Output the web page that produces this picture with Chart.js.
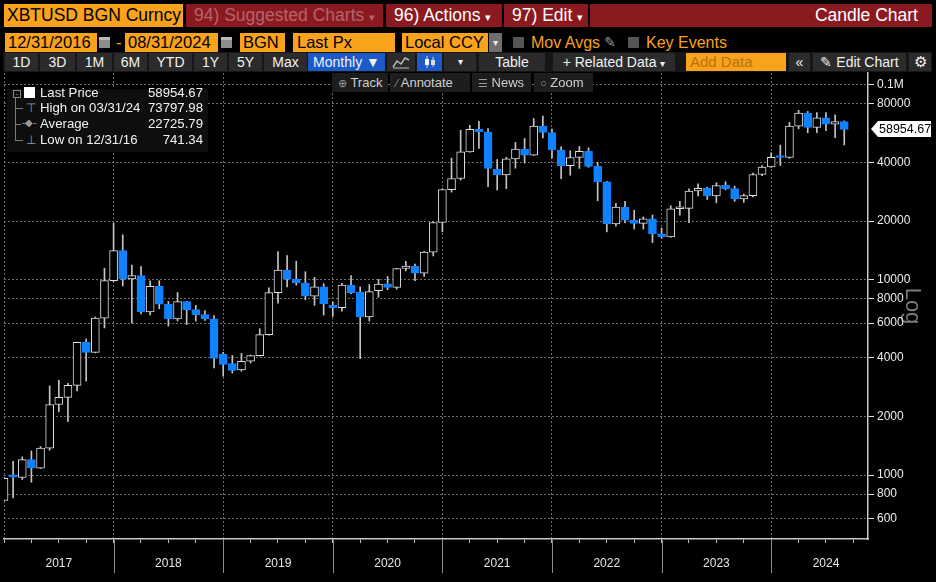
<!DOCTYPE html>
<html>
<head>
<meta charset="utf-8">
<title>XBTUSD Candle Chart</title>
<script src="https://cdn.jsdelivr.net/npm/chart.js@4.4.1/dist/chart.umd.min.js"></script>
<style>
  body { margin:0; background:#000; width:936px; height:582px; overflow:hidden; position:relative;
         font-family:"Liberation Sans", Arial, sans-serif; }
  .b { position:absolute; box-sizing:border-box; white-space:nowrap; overflow:hidden; }
  .r1 { top:4px; height:23px; line-height:23px; font-size:17.5px; }
  .r2 { top:33px; height:19px; line-height:19px; font-size:16.5px; }
  .r3 { top:53px; height:18px; line-height:18px; font-size:14px; background:#2b2b2b; color:#f2f2f2; text-align:center; }
  .r4 { top:73px; height:19px; line-height:19px; font-size:13px; background:#1d1d1d; color:#cfcfcf; padding-left:6px; z-index:2; }
  .org { background:#f9a21b; color:#000; }
  .red { background:#8a1a20; color:#fff; padding-left:8px; }
  .ico { color:#9a9a9a; font-size:11px; }
  #wrap { position:absolute; left:0; top:72px; width:936px; height:510px; }
  #legend { position:absolute; left:7px; top:89px; width:201px; height:63px; background:#0e0e0e; z-index:3;
            font-size:13.2px; color:#f2f2f2; }
  #legend .row { position:absolute; left:33px; width:163px; height:16px; line-height:16px; }
  #legend .row span { position:absolute; right:0; }
  .tree { position:absolute; background:#7a7a7a; }
</style>
</head>
<body>

<!-- header row -->
<div class="b r1 org" style="left:4px;width:179px;padding-left:3px">XBTUSD BGN Curncy</div>
<div class="b r1 red" style="left:186px;width:197px;color:#b5646b">94) Suggested Charts <span style="font-size:11px">▾</span></div>
<div class="b r1 red" style="left:386px;width:116px">96) Actions <span style="font-size:11px">▾</span></div>
<div class="b r1 red" style="left:504px;width:84px">97) Edit <span style="font-size:11px">▾</span></div>
<div class="b r1 red" style="left:590px;width:342px;text-align:right;padding-right:14px">Candle Chart</div>

<!-- date / field row -->
<div class="b r2 org" style="left:5px;width:92px;padding-left:3px">12/31/2016</div>
<div class="b" style="left:99px;top:37px;width:11px;height:11px;background:#8d8d8d;border-top:3px solid #bbb"></div>
<div class="b r2" style="left:116px;color:#f9a21b">-</div>
<div class="b r2 org" style="left:125px;width:93px;padding-left:3px">08/31/2024</div>
<div class="b" style="left:221px;top:37px;width:11px;height:11px;background:#8d8d8d;border-top:3px solid #bbb"></div>
<div class="b r2 org" style="left:240px;width:45px;padding-left:3px">BGN</div>
<div class="b r2 org" style="left:293px;width:102px;padding-left:4px">Last Px</div>
<div class="b r2 org" style="left:402px;width:86px;padding-left:3px">Local CCY</div>
<div class="b r2" style="left:489px;width:13px;background:#6f6f6f;color:#eee;font-size:10px;text-align:center">▾</div>
<div class="b" style="left:513px;top:37px;width:11px;height:11px;background:#555"></div>
<div class="b r2" style="left:531px;color:#f9a21b;font-size:16px">Mov Avgs</div>
<div class="b r2" style="left:604px;color:#9a9a9a;font-size:14px">✎</div>
<div class="b" style="left:628px;top:37px;width:11px;height:11px;background:#555"></div>
<div class="b r2" style="left:646px;color:#f9a21b;font-size:16px">Key Events</div>

<!-- button row -->
<div class="b" style="left:3px;top:52px;width:929px;height:20px;background:#161616"></div>
<div class="b r3" style="left:5px;width:33px">1D</div>
<div class="b r3" style="left:40px;width:35px">3D</div>
<div class="b r3" style="left:77px;width:35px">1M</div>
<div class="b r3" style="left:114px;width:33px">6M</div>
<div class="b r3" style="left:149px;width:43px">YTD</div>
<div class="b r3" style="left:194px;width:33px">1Y</div>
<div class="b r3" style="left:229px;width:33px">5Y</div>
<div class="b r3" style="left:264px;width:43px">Max</div>
<div class="b r3" style="left:308px;width:77px;background:#1c5ac8">Monthly ▼</div>
<div class="b r3" style="left:387px;width:28px">
  <svg width="18" height="14" style="margin-top:2px"><polyline points="1,12 5,6 9,9 13,3 17,5" fill="none" stroke="#bbb" stroke-width="1.4"/><line x1="1" y1="13" x2="17" y2="13" stroke="#bbb"/></svg>
</div>
<div class="b r3" style="left:417px;width:25px;background:#1c5ac8">
  <svg width="14" height="14" style="margin-top:2px"><line x1="4" y1="1" x2="4" y2="13" stroke="#ddd"/><rect x="2" y="4" width="4" height="6" fill="#fff"/><line x1="10" y1="2" x2="10" y2="12" stroke="#ddd"/><rect x="8" y="5" width="4" height="5" fill="#ddd"/></svg>
</div>
<div class="b r3" style="left:444px;width:32px;font-size:10px">▾</div>
<div class="b r3" style="left:479px;width:66px">Table</div>
<div class="b r3" style="left:553px;width:122px">+ Related Data <span style="font-size:10px">▾</span></div>
<div class="b r3 org" style="left:686px;width:100px;text-align:left;padding-left:4px;background:#f9a21b;color:#b8710f;font-size:15px">Add Data</div>
<div class="b r3" style="left:789px;width:21px">«</div>
<div class="b r3" style="left:813px;width:93px">✎ Edit Chart</div>
<div class="b r3" style="left:909px;width:22px;font-size:15px">⚙</div>

<!-- chart toolbar overlay -->
<div class="b r4" style="left:332px;width:56px"><span class="ico">⊕</span> Track</div>
<div class="b r4" style="left:390px;width:80px"><span class="ico">⁄</span> Annotate</div>
<div class="b r4" style="left:472px;width:59px"><span class="ico">☰</span> News</div>
<div class="b r4" style="left:534px;width:59px"><span class="ico">○</span> Zoom</div>

<!-- legend -->
<div id="legend">
  <div class="tree" style="left:8px;top:4px;width:1px;height:48px"></div>
  <div class="b" style="left:6px;top:1px;width:8px;height:8px;border:1px solid #888;background:#0e0e0e;font-size:8px;line-height:6px;color:#aaa;text-align:center">-</div>
  <div class="tree" style="left:8px;top:19px;width:8px;height:1px"></div>
  <div class="tree" style="left:8px;top:35px;width:6px;height:1px"></div>
  <div class="tree" style="left:8px;top:51px;width:8px;height:1px"></div>
  <div class="b" style="left:17px;top:-2px;width:11px;height:11px;background:#fff"></div>
  <div class="b" style="left:19px;top:12px;color:#999;font-size:12px">⊤</div>
  <div class="b" style="left:15px;top:28px;color:#999;font-size:10px">-◆-</div>
  <div class="b" style="left:19px;top:44px;color:#999;font-size:12px">⊥</div>
  <div class="row" style="top:-4px">Last Price<span>58954.67</span></div>
  <div class="row" style="top:11px">High on 03/31/24<span>73797.98</span></div>
  <div class="row" style="top:27px">Average<span>22725.79</span></div>
  <div class="row" style="top:43px">Low on 12/31/16<span>741.34</span></div>
</div>

<div id="wrap"><canvas id="chart"></canvas></div>

<script>
// monthly bars, first one is Dec 2016, last one is Aug 2024
const opens = [
  742,
  1005, 972, 1200, 1085, 1375, 2300, 2500, 2880, 4780, 4250, 6370, 9900,
  14100, 10100, 10500, 6850, 9250, 7500, 6300, 7730, 7030, 6630, 6320, 4170,
  3720, 3460, 3830, 4090, 5240, 8600, 11200, 10080, 9620, 8250, 9200, 7400,
  7200, 9400, 8650, 6450, 8800, 9550, 9150, 11450, 11750, 10800, 13850, 19650,
  28900, 33000, 45200, 59000, 57200, 36800, 34400, 41600, 46700, 43500, 61300, 56800,
  46200, 38400, 42300, 45500, 38100, 31700, 19300, 23600, 20200, 19450, 20500, 17200,
  16600, 23100, 23200, 28500, 29400, 26900, 30500, 29300, 25950, 27000, 34600, 37800,
  42700, 42300, 61200, 71300, 60200, 67500, 62600, 64600
];
const highs = [
  975,
  1175, 1240, 1330, 1400, 2860, 3060, 2950, 4800, 4980, 6450, 11470, 19470,
  17000, 11900, 11700, 9880, 9900, 7750, 8610, 7760, 7400, 6950, 6560, 4250,
  4100, 4200, 4120, 5620, 9100, 13940, 13300, 12450, 11000, 10300, 9550, 7700,
  9600, 10500, 9200, 9450, 10050, 10400, 11450, 12450, 12050, 14000, 19800, 29250,
  42000, 58300, 61800, 64800, 59500, 41300, 42400, 50500, 52900, 67000, 69000, 59100,
  47900, 45800, 48200, 47400, 40000, 31900, 24600, 25200, 22700, 21000, 21450, 18400,
  23950, 25250, 29200, 31000, 29800, 31400, 31800, 30200, 27500, 35200, 38400, 44700,
  48900, 63900, 73797.98, 72800, 71900, 71900, 70000, 65100
];
const lows = [
  741.34,
  765, 950, 920, 1080, 1340, 2110, 1880, 2700, 3030, 4230, 5670, 9800,
  9300, 6010, 6680, 6610, 7110, 5800, 6150, 5900, 6150, 6200, 3540, 3210,
  3330, 3400, 3750, 4070, 5200, 7600, 9200, 9400, 7900, 7400, 6600, 6500,
  6900, 8500, 3950, 6150, 8150, 8900, 8950, 11100, 9900, 10400, 13250, 17600,
  28100, 32400, 45000, 47000, 30000, 28800, 29300, 37300, 39600, 43300, 53300, 42000,
  32900, 34300, 37200, 37700, 25400, 17600, 18800, 19600, 18200, 18200, 15500, 16300,
  16500, 21400, 19600, 26900, 25800, 24800, 28900, 25200, 24900, 26600, 34100, 37600,
  38500, 41900, 59300, 56600, 56600, 58000, 53500, 49000
];
const closes = [
  963,
  975, 1200, 1085, 1375, 2300, 2500, 2880, 4780, 4250, 6370, 9900, 14100,
  10100, 10500, 6850, 9250, 7500, 6300, 7730, 7030, 6630, 6320, 3960, 3690,
  3440, 3830, 4090, 5240, 8600, 11200, 10080, 9650, 8250, 9200, 7550, 7180,
  9400, 8600, 6450, 8700, 9500, 9150, 11400, 11750, 10800, 13850, 19650, 29000,
  33000, 45200, 59000, 57200, 37200, 34400, 41600, 46700, 43500, 61300, 56800, 46200,
  38400, 42300, 45500, 38100, 31700, 19300, 23600, 20200, 19450, 20500, 17200, 16600,
  23100, 23200, 28500, 29400, 26900, 30400, 29300, 25950, 27000, 34600, 37800, 42400,
  42300, 61200, 71300, 60200, 67500, 62600, 64600, 58954.67
];
const yearLabels = ['2017', '2018', '2019', '2020', '2021', '2022', '2023', '2024'];
const yTicks = [600, 800, 1000, 2000, 4000, 6000, 8000, 10000, 20000, 40000, 80000, 100000];
const yTickLabels = ['600', '800', '1000', '2000', '4000', '6000', '8000', '10000', '20000', '40000', '80000', '0.1M'];

const monthNames = ['Jan','Feb','Mar','Apr','May','Jun','Jul','Aug','Sep','Oct','Nov','Dec'];
const months = closes.map((c, i) => monthNames[(i + 11) % 12] + ' ' + (2016 + Math.floor((i + 11) / 12)));

const BLUE = '#1081ff';
const GRID = '#6e6e6e';

// x = months since Dec 2016, quarter ticks, year label mid-year
const xTicks = [];
for (let m = 0; m <= 93; m += 3) xTicks.push(m);

const wickData = months.map((m, i) => ({ x: i, y: [lows[i], highs[i]] }));
const bodyData = months.map((m, i) => ({ x: i, y: [opens[i], closes[i]] }));
const isUp = closes.map((c, i) => c >= opens[i]);

const extras = {
  id: 'extras',
  afterDraw(chart) {
    const { ctx, chartArea, scales: { x, y } } = chart;
    ctx.save();
    // year separators under the axis
    ctx.strokeStyle = '#8c8c8c';
    ctx.lineWidth = 1;
    for (let k = 1; k < yearLabels.length; k++) {
      const px = Math.round(x.getPixelForValue(k * 12)) + 0.5;
      ctx.beginPath();
      ctx.moveTo(px, chartArea.bottom + 1);
      ctx.lineTo(px, chartArea.bottom + 34);
      ctx.stroke();
    }
    // last price tag
    const last = closes[closes.length - 1];
    const py = Math.round(y.getPixelForValue(last));
    const lx = chartArea.right + 3;
    ctx.fillStyle = '#ffffff';
    ctx.beginPath();
    ctx.moveTo(lx, py);
    ctx.lineTo(lx + 7, py - 8);
    ctx.lineTo(lx + 60, py - 8);
    ctx.lineTo(lx + 60, py + 8);
    ctx.lineTo(lx + 7, py + 8);
    ctx.closePath();
    ctx.fill();
    ctx.fillStyle = '#000';
    ctx.font = '12.5px "Liberation Sans", Arial, sans-serif';
    ctx.textBaseline = 'middle';
    ctx.fillText(last.toFixed(2), lx + 8, py + 1);
    ctx.restore();
  }
};

new Chart(document.getElementById('chart'), {
  type: 'bar',
  data: {
    datasets: [
      {
        label: 'Range',
        data: wickData,
        backgroundColor: '#c4c4c4',
        barThickness: 1,
        grouped: false,
        clip: 0,
        order: 2
      },
      {
        label: 'Body',
        data: bodyData,
        backgroundColor: isUp.map(u => u ? '#000000' : BLUE),
        borderColor: isUp.map(u => u ? '#dedede' : BLUE),
        borderWidth: 1,
        borderSkipped: false,
        barThickness: 8,
        minBarLength: 2,
        grouped: false,
        clip: 0,
        order: 1
      }
    ]
  },
  options: {
    responsive: true,
    maintainAspectRatio: false,
    animation: false,
    events: [],
    layout: { padding: { left: 4, top: 1, right: 0, bottom: 0 } },
    plugins: { legend: { display: false }, tooltip: { enabled: false } },
    scales: {
      x: {
        type: 'linear',
        offset: false,
        min: 0,
        max: 94.6,
        afterBuildTicks: s => { s.ticks = xTicks.map(v => ({ value: v })); },
        afterFit: s => { s.height = 43; s.paddingLeft = 0; s.paddingRight = 0; },
        grid: {
          offset: false,
          color: c => (c.tick && c.tick.value % 12 === 0) ? GRID : 'rgba(0,0,0,0)',
          tickColor: '#bdbdbd',
          tickLength: 4,
          tickBorderDash: []
        },
        border: { color: '#c8c8c8', width: 1.5, dash: [2, 2] },
        ticks: {
          autoSkip: false,
          maxRotation: 0,
          color: '#e8e8e8',
          font: { size: 12, family: '"Liberation Sans", Arial, sans-serif' },
          padding: 13,
          callback: v => (v % 12 === 6) ? yearLabels[(v - 6) / 12] : ''
        }
      },
      y: {
        type: 'logarithmic',
        position: 'right',
        min: 471,
        max: 114500,
        afterBuildTicks: s => { s.ticks = yTicks.map(v => ({ value: v })); },
        afterFit: s => { s.width = 68; s.paddingTop = 0; s.paddingBottom = 0; },
        grid: { color: GRID, tickColor: '#e0e0e0', tickLength: 6, tickBorderDash: [] },
        border: { color: '#c8c8c8', width: 1.5, dash: [2, 2] },
        ticks: {
          autoSkip: false,
          color: '#ececec',
          font: { size: 12, family: '"Liberation Sans", Arial, sans-serif' },
          padding: 3,
          callback: v => yTickLabels[yTicks.indexOf(v)]
        },
        title: {
          display: true,
          text: 'Log',
          color: '#7b7b7b',
          font: { size: 22, family: '"Liberation Sans", Arial, sans-serif' },
          padding: { top: 11, bottom: 0 }
        }
      }
    }
  },
  plugins: [extras]
});
</script>
</body>
</html>
